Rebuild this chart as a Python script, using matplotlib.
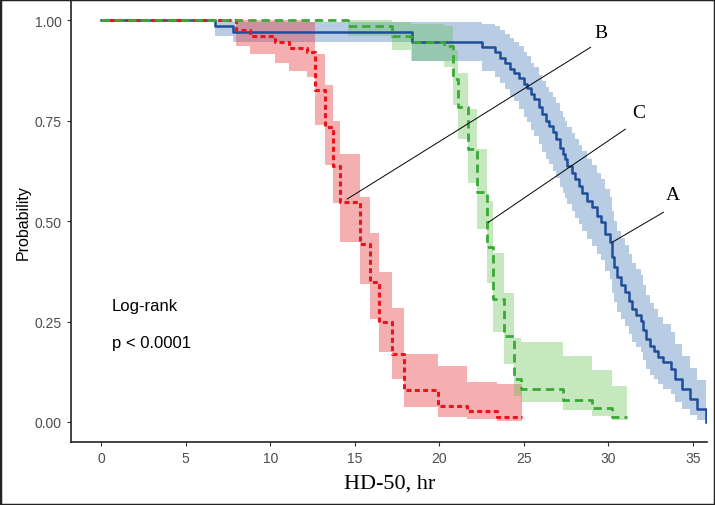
import matplotlib.pyplot as plt
from matplotlib.patches import Rectangle

plt.rcParams["lines.scale_dashes"] = False

# group A (blue, solid)
blue_t = [0, 6.75, 7.8, 18.4, 22.5, 23.3, 23.6, 23.9, 24.2, 24.4, 24.7, 25.0, 25.2, 25.4,
          25.6, 25.9, 26.1, 26.3, 26.5, 26.7, 26.9, 27.15, 27.3, 27.45, 27.55, 27.85, 28.05,
          28.25, 28.45, 28.75, 29.0, 29.3, 29.55, 29.8, 30.1, 30.2, 30.35, 30.5, 30.75, 31.0,
          31.2, 31.4, 31.65, 31.9, 32.05, 32.2, 32.45, 32.7, 32.95, 33.2, 33.7, 33.95, 34.35,
          34.85, 35.25, 35.75]
blue_s = [1.0, 0.987, 0.972, 0.945, 0.933, 0.920, 0.907, 0.895, 0.878, 0.870, 0.857, 0.841,
          0.832, 0.816, 0.803, 0.783, 0.766, 0.749, 0.737, 0.721, 0.704, 0.683, 0.667, 0.654,
          0.638, 0.621, 0.604, 0.588, 0.571, 0.550, 0.534, 0.513, 0.497, 0.468, 0.447, 0.410,
          0.385, 0.360, 0.342, 0.323, 0.302, 0.281, 0.267, 0.252, 0.230, 0.206, 0.190, 0.177,
          0.162, 0.148, 0.132, 0.107, 0.082, 0.057, 0.032, 0.0]
blue_lo = [1.0, 0.96, 0.945, 0.898, 0.875, 0.86, 0.845, 0.83, 0.81, 0.80, 0.78, 0.76, 0.748,
           0.728, 0.712, 0.692, 0.672, 0.654, 0.642, 0.625, 0.608, 0.586, 0.571, 0.557,
           0.542, 0.525, 0.507, 0.492, 0.475, 0.455, 0.438, 0.418, 0.403, 0.376, 0.355,
           0.32, 0.298, 0.273, 0.256, 0.238, 0.218, 0.198, 0.186, 0.173, 0.153, 0.133, 0.118,
           0.108, 0.095, 0.083, 0.07, 0.05, 0.033, 0.018, 0.006, 0.0]
blue_hi = [1.0, 1.0, 0.995, 0.995, 0.99, 0.985, 0.975, 0.965, 0.955, 0.945, 0.935, 0.92,
           0.91, 0.895, 0.885, 0.865, 0.85, 0.835, 0.822, 0.81, 0.795, 0.775, 0.76, 0.75,
           0.735, 0.72, 0.705, 0.69, 0.675, 0.655, 0.64, 0.62, 0.605, 0.58, 0.56, 0.525,
           0.50, 0.475, 0.457, 0.44, 0.418, 0.395, 0.38, 0.365, 0.34, 0.315, 0.297, 0.28,
           0.262, 0.245, 0.225, 0.195, 0.165, 0.135, 0.105, 0.07]

# group B (red, dotted)
red_t = [0, 8.0, 8.8, 10.3, 11.1, 12.2, 12.66, 13.25, 13.73, 14.14, 15.33, 15.9, 16.45, 17.2,
         17.9, 19.9, 21.65, 23.4, 24.9]
red_s = [1.0, 0.975, 0.96, 0.945, 0.93, 0.92, 0.826, 0.734, 0.637, 0.547, 0.443, 0.348, 0.25,
         0.17, 0.08, 0.04, 0.027, 0.012, 0.012]
red_lo = [1.0, 0.935, 0.915, 0.895, 0.873, 0.858, 0.74, 0.64, 0.545, 0.448, 0.343, 0.256,
          0.174, 0.107, 0.037, 0.012, 0.007, 0.003, 0.003]
red_hi = [1.0, 1.0, 1.0, 1.0, 1.0, 0.995, 0.915, 0.84, 0.75, 0.667, 0.56, 0.47, 0.373, 0.283,
          0.17, 0.14, 0.10, 0.095, 0.095]

# group C (green, dashed)
green_t = [0, 14.6, 17.2, 18.3, 20.25, 20.8, 21.1, 21.7, 22.2, 22.8, 23.2, 23.85, 24.4, 24.85,
           27.3, 29.0, 30.2, 31.1]
green_s = [1.0, 0.987, 0.961, 0.945, 0.935, 0.853, 0.784, 0.68, 0.572, 0.435, 0.306, 0.214,
           0.107, 0.082, 0.055, 0.035, 0.013, 0.013]
green_lo = [1.0, 0.96, 0.925, 0.90, 0.885, 0.79, 0.705, 0.595, 0.48, 0.345, 0.225, 0.145,
            0.065, 0.05, 0.03, 0.015, 0.004, 0.004]
green_hi = [1.0, 1.0, 0.995, 0.99, 0.985, 0.925, 0.87, 0.78, 0.68, 0.55, 0.42, 0.32, 0.21,
            0.20, 0.165, 0.13, 0.09, 0.09]

# pointer lines: (curve point, label end) and label text
labels = ["B", "C", "A"]
label_from = [(14.55, 0.555), (22.9, 0.497), (30.25, 0.448)]
label_to = [(28.95, 0.933), (31.0, 0.729), (33.25, 0.522)]
label_pos = [(29.55, 0.97), (31.8, 0.771), (33.8, 0.567)]

fig = plt.figure(figsize=(7.15, 5.06), dpi=100)
ax = fig.add_axes([0.0993, 0.1245, 0.89, 0.873])

ax.fill_between(blue_t, blue_lo, blue_hi, step="post", color="#4f81bd", alpha=0.4, lw=0)
ax.fill_between(red_t, red_lo, red_hi, step="post", color="#e8393c", alpha=0.4, lw=0)
ax.fill_between(green_t, green_lo, green_hi, step="post", color="#5cbf4a", alpha=0.35, lw=0)

ax.step(blue_t, blue_s, where="post", color="#1f4e99", lw=1.8)
ax.step(red_t, red_s, where="post", color="#e8151b", lw=2.2, dashes=(3.6, 2.4))
ax.step(green_t, green_s, where="post", color="#3aa935", lw=2.0, dashes=(6, 3.6))

for lab, p0, p1, pt in zip(labels, label_from, label_to, label_pos):
    ax.plot([p0[0], p1[0]], [p0[1], p1[1]], color="black", lw=0.7)
    ax.text(pt[0], pt[1], lab, family="Liberation Serif", fontsize=14,
            ha="center", va="center")

ax.text(0.65, 0.291, "Log-rank", family="Liberation Sans", fontsize=12, va="center")
ax.text(0.65, 0.199, "p < 0.0001", family="Liberation Sans", fontsize=12, va="center")

ax.set_xlim(-1.78, 35.85)
ax.set_ylim(-0.05, 1.05)
ax.set_xticks([0, 5, 10, 15, 20, 25, 30, 35])
ax.set_yticks([0, 0.25, 0.5, 0.75, 1.0])
ax.set_yticklabels(["0.00", "0.25", "0.50", "0.75", "1.00"])
ax.tick_params(colors="#333333", labelcolor="#4d4d4d", length=3, width=0.8,
               labelsize=10)
for lab in ax.get_xticklabels() + ax.get_yticklabels():
    lab.set_family("Liberation Sans")

for side in ["top", "right"]:
    ax.spines[side].set_visible(False)
for side in ["left", "bottom"]:
    ax.spines[side].set_color("#222222")
    ax.spines[side].set_linewidth(1.2)

ax.set_ylabel("Probability", family="Liberation Sans", fontsize=11.5, labelpad=3)
ax.set_xlabel("HD-50, hr", family="Liberation Serif", fontsize=16, labelpad=6)

fig.patches.append(Rectangle((0, 0), 1, 1, transform=fig.transFigure, fill=False,
                             edgecolor="#222222", lw=2.5))

fig.savefig("out.png", dpi=100)
